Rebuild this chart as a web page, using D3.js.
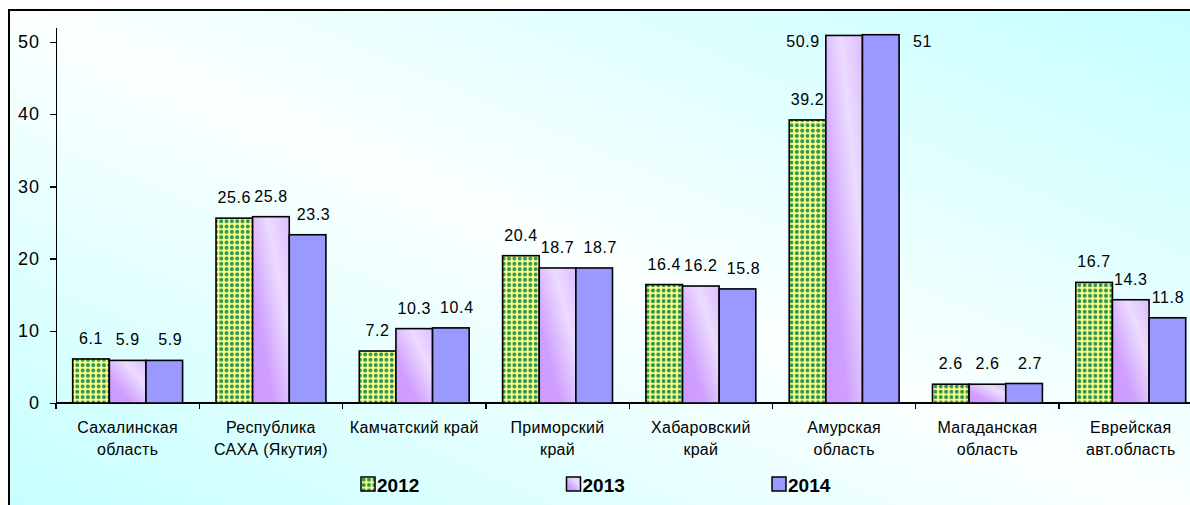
<!DOCTYPE html>
<meta charset="utf-8">
<head>
<style>
  body { margin: 0; background: #fff; }
  .axis path, .axis line { fill: none; stroke: #000; stroke-width: 1.3px; shape-rendering: crispEdges; }
  .axis text { font-family: Arial, "Liberation Sans", sans-serif; fill: #000; }
  .vlabel { font: 16px Arial, "Liberation Sans", sans-serif; letter-spacing: 0.6px; fill: #000; }
  .cat { font: 16px Arial, "Liberation Sans", sans-serif; letter-spacing: 0.3px; fill: #000; }
  .leg { font: bold 19px Arial, "Liberation Sans", sans-serif; fill: #000; }
</style>
</head>
<body>
<script src="https://cdnjs.cloudflare.com/ajax/libs/d3/7.8.5/d3.min.js"></script>
<script>

// data
var regions = [
  ["Сахалинская", "область"],
  ["Республика", "САХА (Якутия)"],
  ["Камчатский край"],
  ["Приморский", "край"],
  ["Хабаровский", "край"],
  ["Амурская", "область"],
  ["Магаданская", "область"],
  ["Еврейская", "авт.область"]
];
var years = ["2012", "2013", "2014"];
var v2012 = [6.1, 25.6, 7.2, 20.4, 16.4, 39.2, 2.6, 16.7];
var v2013 = [5.9, 25.8, 10.3, 18.7, 16.2, 50.9, 2.6, 14.3];
var v2014 = [5.9, 23.3, 10.4, 18.7, 15.8, 51, 2.7, 11.8];
var yTicks = [0, 10, 20, 30, 40, 50];

var W = 1190, H = 505;
var left = 56, zeroY = 403, topY = 27.5, step = 143.3;

var svg = d3.select("body").append("svg")
    .attr("width", W)
    .attr("height", H);

var defs = svg.append("defs");

// cyan in two corners, pale along the other diagonal
var bg = defs.append("linearGradient").attr("id", "bg")
    .attr("x1", 0).attr("y1", 1).attr("x2", 1).attr("y2", 0);
bg.append("stop").attr("offset", "0%").attr("stop-color", "#c4ffff");
bg.append("stop").attr("offset", "50%").attr("stop-color", "#fbffff");
bg.append("stop").attr("offset", "100%").attr("stop-color", "#c4ffff");

var pat = defs.append("pattern").attr("id", "dots")
    .attr("patternUnits", "userSpaceOnUse")
    .attr("width", 5.33).attr("height", 5.33);
pat.append("rect").attr("width", 5.33).attr("height", 5.33).attr("fill", "#ffff88");
pat.append("circle").attr("cx", 2.67).attr("cy", 2.67).attr("r", 2).attr("fill", "#2a9658");

var lilac = defs.append("linearGradient").attr("id", "lilac")
    .attr("x1", 0).attr("y1", 1).attr("x2", 1).attr("y2", 0);
lilac.append("stop").attr("offset", "0%").attr("stop-color", "#cc99ff");
lilac.append("stop").attr("offset", "30%").attr("stop-color", "#cf9fff");
lilac.append("stop").attr("offset", "70%").attr("stop-color", "#ecdcff");
lilac.append("stop").attr("offset", "100%").attr("stop-color", "#dcbcff");

var fills = ["url(#dots)", "url(#lilac)", "#9999ff"];

// frame
svg.append("rect")
    .attr("x", 9).attr("y", 10)
    .attr("width", W + 10).attr("height", H + 10)
    .attr("fill", "url(#bg)")
    .attr("stroke", "#000")
    .attr("stroke-width", 2);

var x0 = d3.scaleBand()
    .domain(d3.range(regions.length))
    .range([left, left + step * regions.length]);

var gap = 16.7;
var x1 = d3.scaleBand()
    .domain(years)
    .range([gap, step - gap]);

var y = d3.scaleLinear()
    .domain([0, 52])
    .range([zeroY, topY]);

// axes
svg.append("g")
    .attr("class", "axis")
    .attr("transform", "translate(" + left + ",0)")
    .call(d3.axisLeft(y).tickValues(yTicks).tickSize(6).tickSizeOuter(0).tickPadding(10))
    .selectAll("text").style("font-size", "18px").style("letter-spacing", "1px");

var xAxis = svg.append("g")
    .attr("class", "axis")
    .attr("transform", "translate(0," + zeroY + ")");
xAxis.append("line")
    .attr("x1", left).attr("x2", left + step * regions.length);
xAxis.selectAll(".tk")
    .data(d3.range(regions.length + 1))
    .enter().append("line")
    .attr("class", "tk")
    .attr("x1", function(i) { return left + step * i; })
    .attr("x2", function(i) { return left + step * i; })
    .attr("y1", 0).attr("y2", 6);

var series = [v2012, v2013, v2014];
var bars = [];
series.forEach(function(vals, s) {
  vals.forEach(function(v, i) {
    bars.push({ s: s, i: i, v: v });
  });
});

var groups = svg.selectAll(".bar")
    .data(bars)
    .enter().append("g")
    .attr("class", "bar");

groups.append("rect")
    .attr("x", function(d) { return x0(d.i) + x1(years[d.s]); })
    .attr("y", function(d) { return y(d.v); })
    .attr("width", x1.bandwidth())
    .attr("height", function(d) { return zeroY - y(d.v); })
    .attr("fill", function(d) { return fills[d.s]; })
    .attr("stroke", "#000")
    .attr("stroke-width", 1.6);

// value labels (if no room above the bar, put it at the side)
groups.append("text")
    .attr("class", "vlabel")
    .each(function(d) {
      var bx = x0(d.i) + x1(years[d.s]);
      var bw = x1.bandwidth();
      var ty = y(d.v) - 15;
      var t = d3.select(this);
      if (ty < topY) {
        ty = y(d.v) + 12;
        if (d.s === years.length - 1) {
          t.attr("x", bx + bw + 14).style("text-anchor", "start");
        } else {
          t.attr("x", bx - 6).style("text-anchor", "end");
        }
      } else {
        // excel pushed the last series' labels a bit to the right
        var shift = d.s === years.length - 1 ? 6 : 0;
        var cx = Math.min(bx + bw / 2 + shift, W - 22);
        t.attr("x", cx).style("text-anchor", "middle");
      }
      t.attr("y", ty);
    })
    .text(function(d) { return d.v; });

// category labels
var cats = svg.selectAll(".cat")
    .data(regions)
    .enter().append("text")
    .attr("class", "cat")
    .attr("text-anchor", "middle")
    .attr("x", function(d, i) { return x0(i) + step / 2; })
    .attr("y", 433);
cats.selectAll("tspan")
    .data(function(d) { return d; })
    .enter().append("tspan")
    .attr("x", function() { return d3.select(this.parentNode).attr("x"); })
    .attr("dy", function(d, j) { return j === 0 ? 0 : 22; })
    .text(function(d) { return d; });

// legend
var legend = svg.selectAll(".legend")
    .data(years)
    .enter().append("g")
    .attr("class", "legend")
    .attr("transform", function(d, i) { return "translate(" + (361 + i * 205.5) + ",477)"; });

legend.append("rect")
    .attr("width", 14).attr("height", 14)
    .attr("fill", function(d, i) { return fills[i]; })
    .attr("stroke", "#000")
    .attr("stroke-width", 1.5);

legend.append("text")
    .attr("class", "leg")
    .attr("x", 16)
    .attr("y", 14.5)
    .text(function(d) { return d; });

</script>
</body>
